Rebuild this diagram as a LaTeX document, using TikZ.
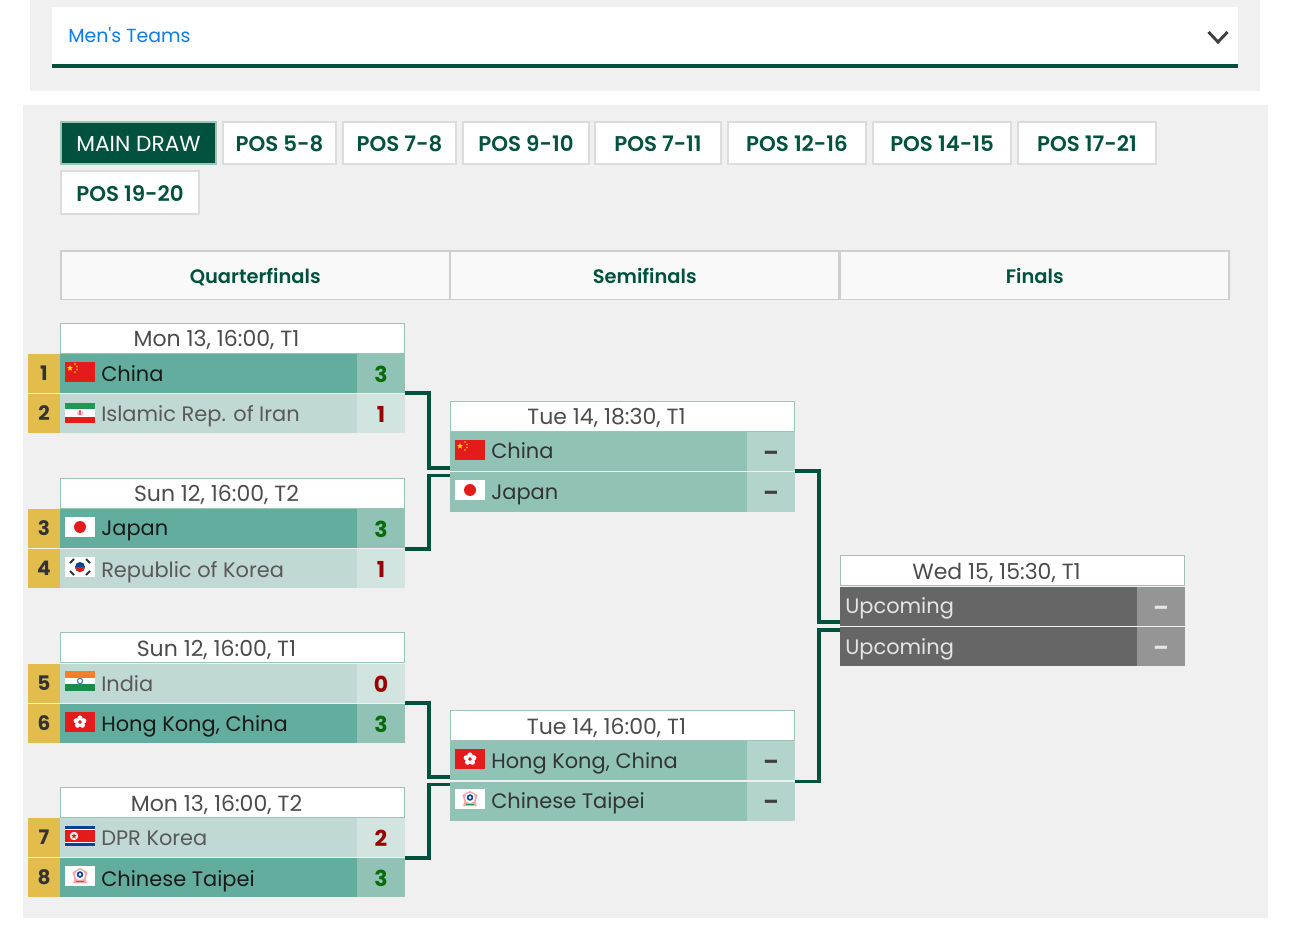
\documentclass[tikz,border=0pt]{standalone}
\usepackage{fontspec}
\setmainfont{Poppins}
\newfontfamily\semifont{Poppins SemiBold}
\definecolor{panelgrey}{HTML}{F0F0F0}
\definecolor{drawgreen}{HTML}{00523F}
\definecolor{linkblue}{HTML}{0A7CF0}
\definecolor{seedgold}{HTML}{E3BD4B}
\definecolor{winbar}{HTML}{63AD9F}
\definecolor{winscore}{HTML}{90C3B6}
\definecolor{losebar}{HTML}{C1D9D4}
\definecolor{losescore}{HTML}{D2E4E0}
\definecolor{nextbar}{HTML}{90C3B6}
\definecolor{nextscore}{HTML}{B2D4CC}
\definecolor{tbdbar}{HTML}{666666}
\definecolor{tbdscore}{HTML}{959595}
\definecolor{dategreen}{HTML}{9CC4B8}
\definecolor{tabline}{HTML}{DCDCDC}
\definecolor{headline}{HTML}{CFCFCF}
\definecolor{scorewin}{HTML}{0A6B0A}
\definecolor{scorelose}{HTML}{9A0000}
\definecolor{flagred}{HTML}{E31B1B}
\definecolor{flagblue}{HTML}{0A3F9C}
\definecolor{flaggreen}{HTML}{1E9A55}
\definecolor{flagorange}{HTML}{F47F24}
\tikzset{
	plain/.style={rectangle,inner sep=0pt,outer sep=0pt,anchor=north west},
	panel/.style={plain,fill=panelgrey,minimum width=#1*0.75pt},
	tabbox/.style={plain,outer sep=0.6pt,fill=white,draw=tabline,line width=1.2pt,text=drawgreen,text height=13.5pt,text depth=0pt,minimum width=#1*0.75pt-1.2pt,minimum height=44*0.75pt-1.2pt,font=\fontsize{16}{20}\semifont},
	headbox/.style={plain,outer sep=0.6pt,fill=white!60!panelgrey,draw=headline,line width=1.2pt,text=drawgreen,text height=12pt,text depth=0pt,minimum width=390.5*0.75pt-1.2pt,minimum height=50.5*0.75pt-1.2pt,font=\fontsize{14.6}{20}\semifont},
	datebox/.style={plain,outer sep=0.55pt,fill=white,draw=dategreen,line width=1.1pt,minimum width=345*0.75pt-1.1pt,minimum height=31*0.75pt-1.1pt},
	datetext/.style={anchor=base,inner sep=0pt,text=black!70,font=\fontsize{16.5}{20}\selectfont},
	seed/.style={plain,fill=seedgold,text=black!80,text height=10.8pt,text depth=0pt,minimum width=32*0.75pt,minimum height=39*0.75pt,font=\fontsize{15}{18}\selectfont\bfseries},
	bar/.style={plain,fill=#1,minimum width=297*0.75pt,minimum height=39*0.75pt},
	scorebox/.style={plain,fill=#1,text height=12.8pt,text depth=0pt,minimum width=48*0.75pt,minimum height=39*0.75pt,font=\fontsize{16.5}{20}\selectfont\bfseries},
	team/.style={anchor=base west,inner sep=0pt,text=#1,font=\fontsize{15.7}{20}\selectfont},
	bracket/.style={draw=drawgreen,line width=2.3pt},
	flagchina/.pic={
		\begin{scope}[yscale=-1]
		\fill[flagred] (0,0) rectangle (30,20);
		\fill[yellow!90!orange] (5,2.8) -- (6.88,8.59) -- (1.96,5.01) -- (8.04,5.01) -- (3.12,8.59) -- cycle;
		\fill[yellow!80!orange] (10,2) circle (0.8) (12,4.5) circle (0.8) (12,7.5) circle (0.8) (10,10) circle (0.8);
		\end{scope}
	},
	flagiran/.pic={
		\begin{scope}[yscale=-1]
		\fill[white] (0,0) rectangle (30,20);
		\fill[flaggreen] (0,0) rectangle (30,6);
		\fill[flagred] (0,14) rectangle (30,20);
		\fill[flagred!70] (14,7.5) rectangle (16,12.5);
		\fill[flagred!50] (12.5,8.5) rectangle (13.5,12) (16.5,8.5) rectangle (17.5,12);
		\end{scope}
	},
	flagjapan/.pic={
		\begin{scope}[yscale=-1]
		\fill[white] (0,0) rectangle (30,20);
		\fill[flagred] (15,10) circle (6);
		\end{scope}
	},
	flagkorea/.pic={
		\begin{scope}[yscale=-1]
		\fill[white] (0,0) rectangle (30,20);
		\fill[flagblue] (15,10) circle (5);
		\fill[flagred] (10,10) arc[start angle=180,end angle=0,radius=5] -- cycle;
		\draw[black!80,line width=1.5pt] (5,6) -- (9,2) (21,2) -- (25,6) (5,14) -- (9,18) (21,18) -- (25,14);
		\end{scope}
	},
	flagindia/.pic={
		\begin{scope}[yscale=-1]
		\fill[white] (0,0) rectangle (30,20);
		\fill[flagorange] (0,0) rectangle (30,6.7);
		\fill[flaggreen!90!black] (0,13.3) rectangle (30,20);
		\draw[flagblue!70,line width=0.9pt] (15,10) circle (2.6);
		\end{scope}
	},
	flaghongkong/.pic={
		\begin{scope}[yscale=-1]
		\fill[flagred] (0,0) rectangle (30,20);
		\fill[white] (15,6) circle (2.6) (18.8,8.8) circle (2.6) (17.4,13.2) circle (2.6) (12.6,13.2) circle (2.6) (11.2,8.8) circle (2.6);
		\fill[flagred] (15,10) circle (0.8);
		\end{scope}
	},
	flagdprk/.pic={
		\begin{scope}[yscale=-1]
		\fill[flagblue] (0,0) rectangle (30,20);
		\fill[white] (0,3) rectangle (30,17);
		\fill[flagred] (0,4.2) rectangle (30,15.8);
		\fill[white] (9,10) circle (4.2);
		\fill[flagred] (9,6.8) -- (10.9,12.6) -- (6,9) -- (12,9) -- (7.1,12.6) -- cycle;
		\end{scope}
	},
	flagtaipei/.pic={
		\begin{scope}[yscale=-1]
		\fill[white] (0,0) rectangle (30,20);
		\fill[flagred!40] (15,2) -- (22.5,6) -- (20.5,13) -- (22,17) -- (8,17) -- (9.5,13) -- (7.5,6) -- cycle;
		\fill[white] (15,9) circle (5.2);
		\draw[flagblue,line width=1.2pt] (15,8.5) circle (2.4);
		\draw[flaggreen,line width=0.5pt] (11,15) -- (19,15);
		\end{scope}
	},
}
\usetikzlibrary{positioning}

\begin{document}
\begin{tikzpicture}[x=0.75pt,y=0.75pt,yscale=-1,xscale=1]
	\useasboundingbox (0,0) rectangle (1290,941);
	
	% Dropdown
	\node (toppanel) [panel=1230,minimum height=91*0.75pt] at (30,0) {};
	\node (dropbox) [plain,fill=white,minimum width=1186*0.75pt,minimum height=57*0.75pt] at (52,7) {};
	\node (dropline) [plain,fill=drawgreen,minimum width=1186*0.75pt,minimum height=4*0.75pt] at (52,64) {};
	\node (droptext) [team=linkblue,font=\fontsize{14.2}{20}\selectfont] at (68,43) {Men\textquotesingle s Teams};
	\draw [color=black!75,line width=2.2pt] (1208.5,32) -- (1218,42) -- (1227.5,32);
	
	% Main panel
	\node (mainpanel) [panel=1245,minimum height=813*0.75pt] at (23,105) {};
	
	% Tabs
	\node (tabmain) [tabbox=157,fill=drawgreen,draw=dategreen,text=white,font=\fontsize{16.3}{20}\selectfont] at (60,121) {MAIN DRAW};
	\node (tabfive) [tabbox=115] at (222,121) {POS 5-8};
	\node (tabseven) [tabbox=115] at (342,121) {POS 7-8};
	\node (tabnine) [tabbox=128] at (462,121) {POS 9-10};
	\node (tabeleven) [tabbox=128] at (594,121) {POS 7-11};
	\node (tabtwelve) [tabbox=140] at (727,121) {POS 12-16};
	\node (tabfourteen) [tabbox=140] at (872,121) {POS 14-15};
	\node (tabseventeen) [tabbox=140] at (1017,121) {POS 17-21};
	\node (tabnineteen) [tabbox=140,minimum height=45*0.75pt-1.2pt] at (60,170) {POS 19-20};
	
	% Round headers
	\node (headquarter) [headbox] at (60,250) {Quarterfinals};
	\node (headsemi) [headbox] at (449.5,250) {Semifinals};
	\node (headfinal) [headbox] at (839.5,250) {Finals};
	
	% Connectors ends
	\coordinate (semionetop) at (450,468);
	\coordinate (semionelow) at (450,475.5);
	\coordinate (semitwotop) at (450,777);
	\coordinate (semitwolow) at (450,784.5);
	\coordinate (finaltop) at (840,622);
	\coordinate (finallow) at (840,630);
	
	% Match 1
	\node (mdateone) [datebox] at (60,323) {};
	\node (mtimeone) [datetext] at (216.5,347) {Mon 13, 16:00, T1};
	\node (seedone) [seed] at (28,354) {1};
	\node (teamone) [bar=winbar] at (60,354) {};
	\node (scoreone) [scorebox=winscore,text=scorewin] at (357,354) {3};
	\pic at (65,362) {flagchina};
	\node (nameone) [team=black!90] at (101,381.5) {China};
	\node (seedtwo) [seed] at (28,394) {2};
	\node (teamtwo) [bar=losebar] at (60,394) {};
	\node (scoretwo) [scorebox=losescore,text=scorelose] at (357,394) {1};
	\pic at (65,403) {flagiran};
	\node (nametwo) [team=black!65] at (101,422) {Islamic Rep. of Iran};
	
	% Match 2
	\node (mdatetwo) [datebox] at (60,478) {};
	\node (mtimetwo) [datetext] at (216.5,502) {Sun 12, 16:00, T2};
	\node (seedthree) [seed] at (28,509) {3};
	\node (teamthree) [bar=winbar] at (60,509) {};
	\node (scorethree) [scorebox=winscore,text=scorewin] at (357,509) {3};
	\pic at (65,517) {flagjapan};
	\node (namethree) [team=black!90] at (101,536) {Japan};
	\node (seedfour) [seed] at (28,549) {4};
	\node (teamfour) [bar=losebar] at (60,549) {};
	\node (scorefour) [scorebox=losescore,text=scorelose] at (357,549) {1};
	\pic at (65,557) {flagkorea};
	\node (namefour) [team=black!65] at (101,577) {Republic of Korea};
	
	% Match 3
	\node (mdatethree) [datebox] at (60,632) {};
	\node (mtimethree) [datetext] at (216.5,656) {Sun 12, 16:00, T1};
	\node (seedfive) [seed] at (28,664) {5};
	\node (teamfive) [bar=losebar] at (60,664) {};
	\node (scorefive) [scorebox=losescore,text=scorelose] at (357,664) {0};
	\pic at (65,671) {flagindia};
	\node (namefive) [team=black!65] at (101,691) {India};
	\node (seedsix) [seed] at (28,704) {6};
	\node (teamsix) [bar=winbar] at (60,704) {};
	\node (scoresix) [scorebox=winscore,text=scorewin] at (357,704) {3};
	\pic at (65,712) {flaghongkong};
	\node (namesix) [team=black!90] at (101,731) {Hong Kong, China};
	
	% Match 4
	\node (mdatefour) [datebox] at (60,787) {};
	\node (mtimefour) [datetext] at (216.5,811) {Mon 13, 16:00, T2};
	\node (seedseven) [seed] at (28,818) {7};
	\node (teamseven) [bar=losebar] at (60,818) {};
	\node (scoreseven) [scorebox=losescore,text=scorelose] at (357,818) {2};
	\pic at (65,826) {flagdprk};
	\node (nameseven) [team=black!65] at (101,845) {DPR Korea};
	\node (seedeight) [seed] at (28,858) {8};
	\node (teameight) [bar=winbar] at (60,858) {};
	\node (scoreeight) [scorebox=winscore,text=scorewin] at (357,858) {3};
	\pic at (65,866) {flagtaipei};
	\node (nameeight) [team=black!90] at (101,886) {Chinese Taipei};
	
	% Semifinal 1
	\node (sdateone) [datebox] at (450,401) {};
	\node (stimeone) [datetext] at (606.5,425) {Tue 14, 18:30, T1};
	\node (semia) [bar=nextbar] at (450,432) {};
	\node (semiascore) [scorebox=nextscore,text=black!75] at (747,432) {–};
	\pic at (455,440) {flagchina};
	\node (semianame) [team=black!80] at (491,459) {China};
	\node (semib) [bar=nextbar] at (450,472.5) {};
	\node (semibscore) [scorebox=nextscore,text=black!75] at (747,472.5) {–};
	\pic at (455,480) {flagjapan};
	\node (semibname) [team=black!80] at (491,499) {Japan};
	
	% Semifinal 2
	\node (sdatetwo) [datebox] at (450,710) {};
	\node (stimetwo) [datetext] at (606.5,734) {Tue 14, 16:00, T1};
	\node (semic) [bar=nextbar] at (450,741) {};
	\node (semicscore) [scorebox=nextscore,text=black!75] at (747,741) {–};
	\pic at (455,749) {flaghongkong};
	\node (semicname) [team=black!80] at (491,768) {Hong Kong, China};
	\node (semid) [bar=nextbar] at (450,781.5) {};
	\node (semidscore) [scorebox=nextscore,text=black!75] at (747,781.5) {–};
	\pic at (455,789) {flagtaipei};
	\node (semidname) [team=black!80] at (491,808) {Chinese Taipei};
	
	% Final
	\node (fdate) [datebox] at (840,555) {};
	\node (ftime) [datetext] at (996.5,579) {Wed 15, 15:30, T1};
	\node (finala) [bar=tbdbar] at (840,587) {};
	\node (finalascore) [scorebox=tbdscore,text=white!90!black] at (1137,587) {–};
	\node (finalaname) [team=white!90!black] at (845,613) {Upcoming};
	\node (finalb) [bar=tbdbar] at (840,627) {};
	\node (finalbscore) [scorebox=tbdscore,text=white!90!black] at (1137,627) {–};
	\node (finalbname) [team=white!90!black] at (845,654) {Upcoming};
	
	% Connectors
	\draw [bracket] (scoreone.south east) -- ++(24,0) |- (semionetop);
	\draw [bracket] (scorefour.north east) -- ++(24,0) |- (semionelow);
	\draw [bracket] (scorefive.south east) -- ++(24,0) |- (semitwotop);
	\draw [bracket] (scoreeight.north east) -- ++(24,0) |- (semitwolow);
	\draw [bracket] (semiascore.south east) -- ++(24,0) |- (finaltop);
	\draw [bracket] (semidscore.north east) -- ++(24,0) |- (finallow);
	
\end{tikzpicture}
\end{document}
